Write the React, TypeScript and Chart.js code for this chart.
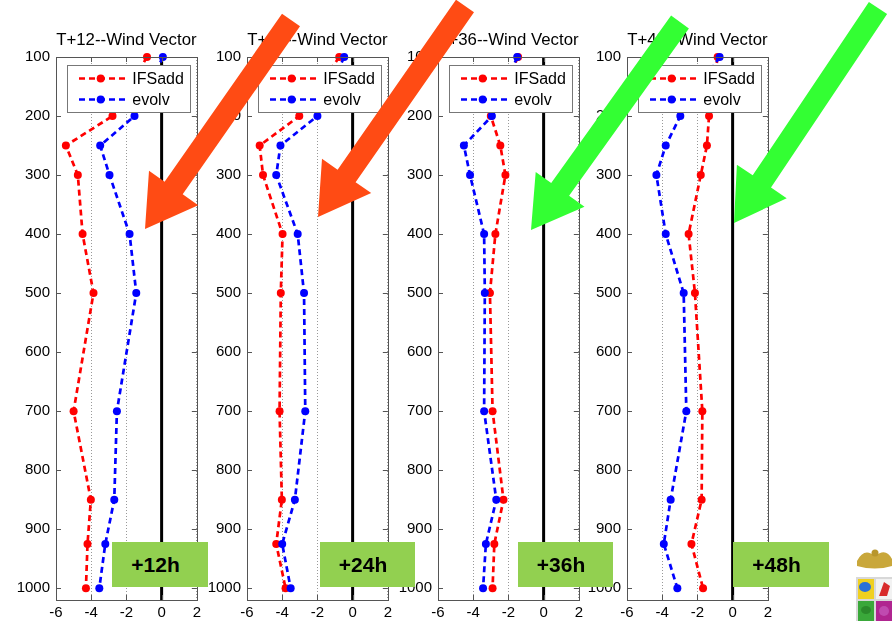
import React, { useEffect, useRef } from "react";
import { Chart, registerables } from "chart.js";

Chart.register(...registerables);

// Pressure levels (hPa) shared by every profile
const levels = [100, 200, 250, 300, 400, 500, 700, 850, 925, 1000];

const panelTitles = [
  "T+12--Wind Vector",
  "T+24--Wind Vector",
  "T+36--Wind Vector",
  "T+48--Wind Vector",
];
const leadLabels = ["+12h", "+24h", "+36h", "+48h"];
const seriesNames = ["IFSadd", "evolv"];

// Wind vector scores per level, one array per lead time and experiment
const ifsaddT12 = [-0.83, -2.79, -5.44, -4.76, -4.49, -3.87, -5.0, -4.02, -4.21, -4.3];
const evolvT12 = [0.07, -1.54, -3.49, -2.96, -1.82, -1.44, -2.54, -2.69, -3.2, -3.54];
const ifsaddT24 = [-0.76, -3.03, -5.28, -5.09, -3.98, -4.08, -4.15, -4.02, -4.34, -3.81];
const evolvT24 = [-0.48, -2.0, -4.1, -4.34, -3.12, -2.76, -2.69, -3.28, -4.0, -3.52];
const ifsaddT36 = [-1.45, -3.0, -2.46, -2.17, -2.74, -3.05, -2.9, -2.28, -2.8, -2.9];
const evolvT36 = [-1.5, -2.94, -4.53, -4.18, -3.38, -3.34, -3.38, -2.69, -3.28, -3.44];
const ifsaddT48 = [-0.85, -1.34, -1.46, -1.81, -2.5, -2.14, -1.72, -1.76, -2.34, -1.68];
const evolvT48 = [-0.74, -2.97, -3.8, -4.33, -3.8, -2.78, -2.63, -3.52, -3.91, -3.14];

const ifsaddSeries = [ifsaddT12, ifsaddT24, ifsaddT36, ifsaddT48];
const evolvSeries = [evolvT12, evolvT24, evolvT36, evolvT48];

// Axis ticks
const xTicks = [-6, -4, -2, 0, 2];
const yTicks = [100, 200, 300, 400, 500, 600, 700, 800, 900, 1000];
const xRange = [-6, 2];
const yRange = [100, 1020];

const FONT = '"Liberation Sans", Arial, Helvetica, sans-serif';
const FRAME = "#555";
const RED = "#ff0000";
const BLUE = "#0000ff";

// Page layout of the four panels
const plotLefts = [56, 247, 438, 627];
const PLOT_W = 141;
const AXIS_W = 56;
const PAD_R = 8;
const CANVAS_W = AXIS_W + PLOT_W + PAD_R;
const CANVAS_H = 621;

const badgeBoxes = [
  { left: 112, width: 96 },
  { left: 320, width: 95 },
  { left: 518, width: 95 },
  { left: 733, width: 96 },
];

type Pt = [number, number];
const arrows: { from: Pt; to: Pt; color: string }[] = [
  { from: [291, 20], to: [145, 229], color: "#ff4b14" },
  { from: [465, 6], to: [318, 217], color: "#ff4b14" },
  { from: [680, 22], to: [531, 230], color: "#33ff33" },
  { from: [878, 8], to: [734, 223], color: "#33ff33" },
];

// Frame with inward ticks, boxed legend and panel title
const panelDecor = {
  id: "panelDecor",
  afterDatasetsDraw(chart: any) {
    const { ctx, chartArea: a } = chart;
    const bx = a.left + 10.7;
    const by = a.top + 8;
    const bw = 123.3;
    const bh = 47.3;
    ctx.save();
    ctx.fillStyle = "#fff";
    ctx.fillRect(bx, by, bw, bh);
    ctx.strokeStyle = "#777";
    ctx.lineWidth = 1;
    ctx.strokeRect(Math.round(bx) + 0.5, Math.round(by) + 0.5, Math.round(bw), Math.round(bh));
    const entries = chart.data.datasets.filter((d: any) => d.label);
    entries.forEach((d: any, i: number) => {
      const cy = by + 13.5 + i * 21;
      ctx.strokeStyle = d.borderColor;
      ctx.lineWidth = d.borderWidth;
      ctx.setLineDash(d.borderDash || []);
      ctx.beginPath();
      ctx.moveTo(bx + 12.3, cy);
      ctx.lineTo(bx + 60.3, cy);
      ctx.stroke();
      ctx.setLineDash([]);
      ctx.fillStyle = d.borderColor;
      ctx.beginPath();
      ctx.arc(bx + 34, cy, d.pointRadius, 0, Math.PI * 2);
      ctx.fill();
      ctx.fillStyle = "#000";
      ctx.font = `16px ${FONT}`;
      ctx.textBaseline = "middle";
      ctx.textAlign = "left";
      ctx.fillText(d.label, bx + 65.6, cy + 1);
    });
    ctx.restore();
  },
  afterDraw(chart: any, _args: any, opts: any) {
    const { ctx, chartArea: a, scales } = chart;
    ctx.save();
    ctx.strokeStyle = FRAME;
    ctx.lineWidth = 1;
    ctx.strokeRect(Math.round(a.left) + 0.5, Math.round(a.top) + 0.5, Math.round(a.right - a.left), Math.round(a.bottom - a.top));
    const tl = 5;
    ctx.beginPath();
    yTicks.forEach((v) => {
      const y = Math.round(scales.y.getPixelForValue(v)) + 0.5;
      ctx.moveTo(a.left, y);
      ctx.lineTo(a.left + tl, y);
      ctx.moveTo(a.right - tl, y);
      ctx.lineTo(a.right, y);
    });
    xTicks.forEach((v) => {
      const x = Math.round(scales.x.getPixelForValue(v)) + 0.5;
      ctx.moveTo(x, a.bottom);
      ctx.lineTo(x, a.bottom - tl);
      ctx.moveTo(x, a.top);
      ctx.lineTo(x, a.top + tl);
    });
    ctx.stroke();
    ctx.fillStyle = "#000";
    ctx.font = `16.8px ${FONT}`;
    ctx.textAlign = "center";
    ctx.textBaseline = "alphabetic";
    ctx.fillText(opts.title, (a.left + a.right) / 2, a.top - 12);
    ctx.restore();
  },
};

function ProfilePanel({ index }: { index: number }) {
  const ref = useRef<HTMLCanvasElement>(null);
  useEffect(() => {
    const toPoints = (vals: number[]) => levels.map((p, i) => ({ x: vals[i], y: p }));
    const chart = new Chart(ref.current as HTMLCanvasElement, {
      type: "scatter",
      data: {
        datasets: [
          {
            label: seriesNames[0],
            data: toPoints(ifsaddSeries[index]),
            showLine: true,
            borderColor: RED,
            backgroundColor: RED,
            borderWidth: 2.7,
            borderDash: [6, 4],
            pointRadius: 4,
            pointBorderWidth: 0,
            pointBackgroundColor: RED,
            order: 2,
            clip: false,
          },
          {
            label: seriesNames[1],
            data: toPoints(evolvSeries[index]),
            showLine: true,
            borderColor: BLUE,
            backgroundColor: BLUE,
            borderWidth: 2.7,
            borderDash: [6, 4],
            pointRadius: 4,
            pointBorderWidth: 0,
            pointBackgroundColor: BLUE,
            order: 1,
            clip: false,
          },
          {
            label: "",
            data: [
              { x: 0, y: yRange[0] },
              { x: 0, y: yRange[1] },
            ],
            showLine: true,
            borderColor: "#000",
            borderWidth: 3,
            pointRadius: 0,
            order: 3,
          },
        ],
      } as any,
      options: {
        responsive: false,
        animation: false,
        devicePixelRatio: 1,
        layout: { padding: { top: 57, bottom: 0, left: 0, right: PAD_R } },
        plugins: {
          legend: { display: false },
          tooltip: { enabled: false },
          title: { display: false },
          panelDecor: { title: panelTitles[index] },
        } as any,
        scales: {
          x: {
            type: "linear",
            min: xRange[0],
            max: xRange[1],
            afterBuildTicks: (s: any) => {
              s.ticks = xTicks.map((value) => ({ value }));
            },
            afterFit: (s: any) => {
              s.height = 21;
            },
            ticks: {
              color: "#000",
              font: { family: FONT, size: 15 },
              padding: 4,
              maxRotation: 0,
              callback: (v: any) => String(v),
            },
            grid: { color: "#999", lineWidth: 1, drawTicks: false },
            border: { display: false, dash: [1, 2] },
          },
          y: {
            type: "linear",
            reverse: true,
            min: yRange[0],
            max: yRange[1],
            afterBuildTicks: (s: any) => {
              s.ticks = yTicks.map((value) => ({ value }));
            },
            afterFit: (s: any) => {
              s.width = AXIS_W;
            },
            ticks: {
              color: "#000",
              font: { family: FONT, size: 15 },
              padding: 6,
              callback: (v: any) => String(v),
            },
            grid: { display: false, drawTicks: false },
            border: { display: false },
          },
        },
      },
      plugins: [panelDecor],
    });
    return () => chart.destroy();
  }, [index]);
  return (
    <canvas
      ref={ref}
      width={CANVAS_W}
      height={CANVAS_H}
      style={{ position: "absolute", left: plotLefts[index] - AXIS_W, top: 0, width: CANVAS_W, height: CANVAS_H }}
    />
  );
}

function arrowPolygon(from: Pt, to: Pt, shaft = 22, headLen = 50, headW = 60): string {
  const dx = to[0] - from[0];
  const dy = to[1] - from[1];
  const len = Math.hypot(dx, dy);
  const ux = dx / len;
  const uy = dy / len;
  const nx = -uy;
  const ny = ux;
  const bx = to[0] - ux * headLen;
  const by = to[1] - uy * headLen;
  const pts: Pt[] = [
    [from[0] + (nx * shaft) / 2, from[1] + (ny * shaft) / 2],
    [bx + (nx * shaft) / 2, by + (ny * shaft) / 2],
    [bx + (nx * headW) / 2, by + (ny * headW) / 2],
    to,
    [bx - (nx * headW) / 2, by - (ny * headW) / 2],
    [bx - (nx * shaft) / 2, by - (ny * shaft) / 2],
    [from[0] - (nx * shaft) / 2, from[1] - (ny * shaft) / 2],
  ];
  return pts.map((p) => `${p[0].toFixed(1)},${p[1].toFixed(1)}`).join(" ");
}

export default function App() {
  return (
    <div style={{ position: "absolute", left: 0, top: 0, width: 892, height: 621, background: "#fff", overflow: "hidden" }}>
      {plotLefts.map((_, i) => (
        <ProfilePanel key={i} index={i} />
      ))}
      {badgeBoxes.map((b, i) => (
        <div
          key={i}
          style={{
            position: "absolute",
            left: b.left,
            top: 542,
            width: b.width,
            height: 45,
            background: "#92d050",
            display: "flex",
            alignItems: "center",
            justifyContent: "center",
            paddingRight: 9,
            boxSizing: "border-box",
            fontFamily: FONT,
            fontWeight: "bold",
            fontSize: 21,
            color: "#000",
          }}
        >
          {leadLabels[i]}
        </div>
      ))}
      <svg width={892} height={621} style={{ position: "absolute", left: 0, top: 0, pointerEvents: "none" }}>
        {arrows.map((a, i) => (
          <polygon key={i} points={arrowPolygon(a.from, a.to)} fill={a.color} />
        ))}
        {/* crest in the lower right corner */}
        <g>
          <path d="M857,561 Q864,547 875,556 Q886,547 892,559 L892,566 Q875,571 857,566 Z" fill="#c9a73a" />
          <circle cx={875} cy={553} r={3.5} fill="#b8962c" />
          <rect x={856} y={577} width={36} height={44} fill="#d8d8d8" />
          <rect x={858} y={579} width={16} height={20} fill="#f0d020" />
          <ellipse cx={865} cy={587} rx={6} ry={5} fill="#2a70d8" />
          <rect x={876} y={579} width={16} height={20} fill="#f2f2f2" />
          <path d="M879,596 L884,582 L890,586 L887,596 Z" fill="#d82a2a" />
          <rect x={858} y={601} width={16} height={20} fill="#3aa83a" />
          <ellipse cx={866} cy={610} rx={5} ry={4} fill="#2b8a2b" />
          <rect x={876} y={601} width={16} height={20} fill="#b02590" />
          <ellipse cx={884} cy={611} rx={5} ry={5} fill="#c04ab0" />
        </g>
      </svg>
    </div>
  );
}
